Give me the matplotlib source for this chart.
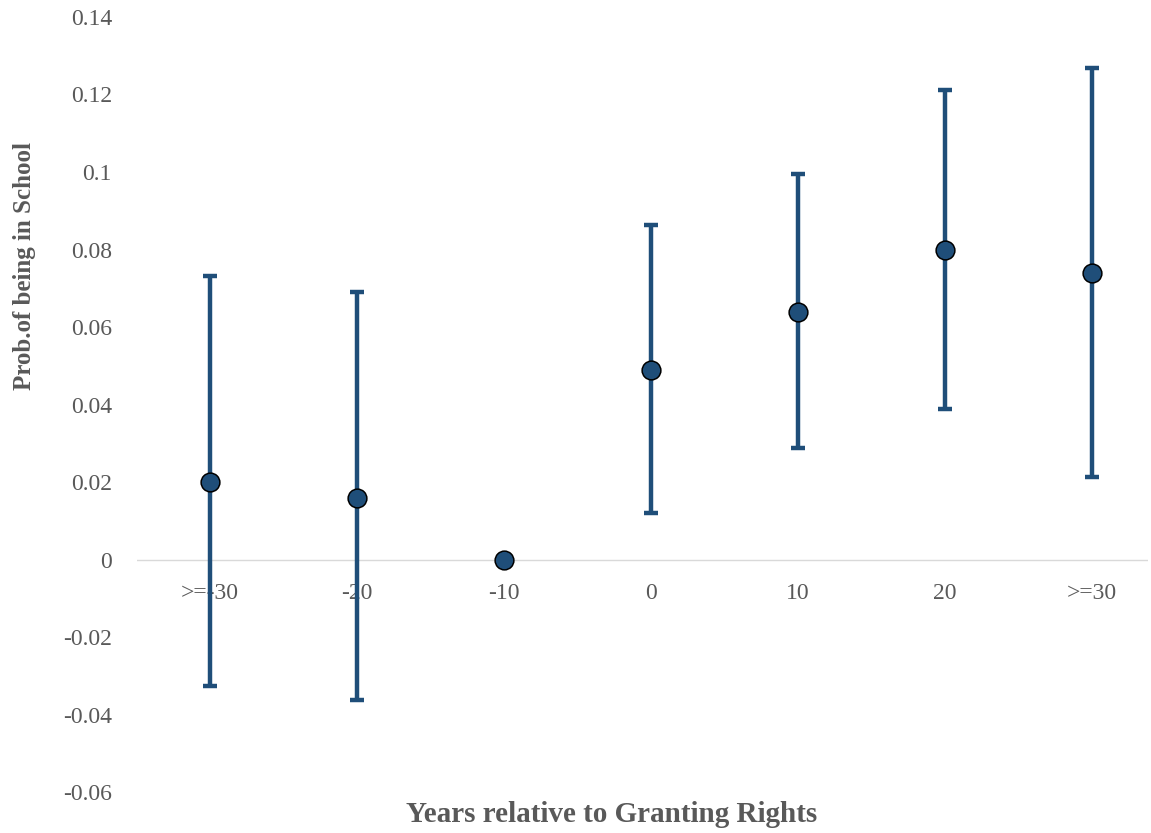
import numpy as np
import matplotlib
matplotlib.use('Agg')
import matplotlib.pyplot as plt

# event-study estimates
labels = ['>=-30', '-20', '-10', '0', '10', '20', '>=30']
coef = [0.020, 0.016, 0.0, 0.049, 0.064, 0.080, 0.074]
upper = [0.0732, 0.069, np.nan, 0.0863, 0.0995, 0.1212, 0.1268]
lower = [-0.0326, -0.0362, np.nan, 0.0120, 0.0288, 0.0388, 0.0212]

blue = '#1f4e79'
grey = '#595959'
plt.rcParams['font.family'] = ['Liberation Serif', 'DejaVu Serif']

fig = plt.figure(figsize=(11.51, 8.33), dpi=100)
ax = fig.add_axes([0.119, 0.0492, 0.878, 0.9304])

x = np.arange(len(labels))
coef = np.array(coef)
upper = np.array(upper)
lower = np.array(lower)
has_ci = ~np.isnan(upper)
yerr = [coef[has_ci] - lower[has_ci], upper[has_ci] - coef[has_ci]]
ax.errorbar(x[has_ci], coef[has_ci], yerr=yerr, fmt='none', ecolor=blue,
            elinewidth=3.2, capsize=5, capthick=3.2, zorder=2)
ax.plot(x, coef, 'o', ms=13.5, mfc=blue, mec='black', mew=1.1, zorder=3)

ax.axhline(0, color='#d9d9d9', lw=1, zorder=1)
ax.set_xlim(-0.497, 6.38)
ax.set_ylim(-0.06, 0.14)
ax.set_yticks(np.arange(-0.06, 0.141, 0.02))
ax.set_yticklabels(['-0.06', '-0.04', '-0.02', '0', '0.02', '0.04', '0.06',
                    '0.08', '0.1', '0.12', '0.14'])
ax.tick_params(axis='y', length=0, pad=18, labelsize=17, labelcolor=grey)
ax.set_xticks([])
for s in ax.spines.values():
    s.set_visible(False)

for xi, lab in zip(x, labels):
    ax.text(xi, -0.0088, lab, ha='center', va='center', fontsize=17,
            color=grey, zorder=1)

fig.text(25 / 1151, 1 - 266 / 833, 'Prob.of being in School', rotation=90,
         ha='center', va='center', fontsize=18, fontweight='bold', color=grey)
fig.text(612 / 1151, 1 - 814 / 833, 'Years relative to Granting Rights',
         ha='center', va='center', fontsize=21, fontweight='bold', color=grey)

plt.savefig('out.png', dpi=100)
plt.close()
